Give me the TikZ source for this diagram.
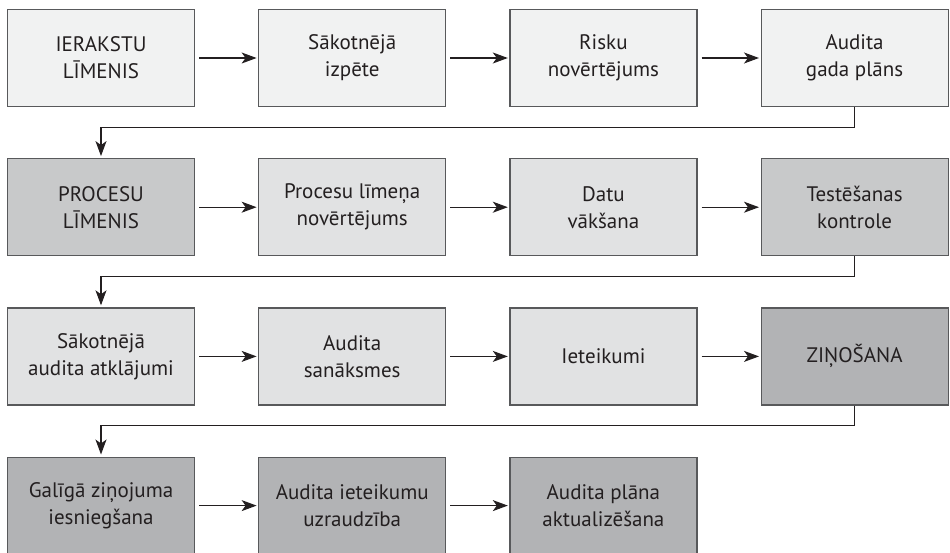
\documentclass[tikz,border=0pt]{standalone}
\usepackage{fontspec}
\setmainfont{PT Sans}
\usepackage{xcolor}
\usetikzlibrary{positioning,arrows.meta}

\definecolor{lightbox}{HTML}{F1F2F2}
\definecolor{midbox}{HTML}{E1E2E3}
\definecolor{greybox}{HTML}{C8C9CA}
\definecolor{darkbox}{HTML}{B2B3B5}
\definecolor{edge}{HTML}{58595B}
\definecolor{ink}{HTML}{231F20}

\begin{document}
\begin{tikzpicture}[
    node distance=51pt and 63pt,
    box/.style={
        draw=edge,
        line width=1.2pt,
        fill=lightbox,
        minimum width=187pt,
        minimum height=97pt,
        align=center,
        text=ink,
        font=\fontsize{21pt}{27pt}\selectfont,
    },
    arrow/.style={-{Stealth[length=15pt,width=11pt,inset=4pt]}, line width=1.1pt, draw=ink,
        shorten <=4pt, shorten >=1.5pt},
    rowarrow/.style={-{Stealth[length=15pt,width=11pt,inset=4pt]}, line width=1.1pt, draw=ink,
        shorten >=2pt},
]
\useasboundingbox (0,0) rectangle (950pt,-552pt);

% ----- Row 1 -----
\node[box] (ier) at (101pt,-58pt) {IERAKSTU\\LĪMENIS};
\node[box, right=of ier] (sak) {Sākotnējā\\izpēte};
\node[box, right=of sak] (risk) {Risku\\novērtējums};
\node[box, right=of risk] (plan) {Audita\\gada plāns};

% ----- Row 2 -----
\node[box, fill=greybox, below=of ier] (proc) {PROCESU\\LĪMENIS};
\node[box, fill=midbox, right=of proc] (plim) {Procesu līmeņa\\novērtējums};
\node[box, fill=midbox, right=of plim] (datu) {Datu\\vākšana};
\node[box, fill=greybox, right=of datu] (test) {Testēšanas\\kontrole};

% ----- Row 3 -----
\node[box, fill=midbox, below=of proc] (atkl) {Sākotnējā\\audita atklājumi};
\node[box, fill=midbox, right=of atkl] (sana) {Audita\\sanāksmes};
\node[box, fill=midbox, right=of sana] (iet) {Ieteikumi};
\node[box, fill=darkbox, right=of iet] (zin) {ZIŅOŠANA};

% ----- Row 4 -----
\node[box, fill=darkbox, below=of atkl] (gal) {Galīgā ziņojuma\\iesniegšana};
\node[box, fill=darkbox, right=of gal] (uzr) {Audita ieteikumu\\uzraudzība};
\node[box, fill=darkbox, right=of uzr] (akt) {Audita plāna\\aktualizēšana};

% ----- Arrows -----
\draw[arrow] (ier) -- (sak);
\draw[arrow] (sak) -- (risk);
\draw[arrow] (risk) -- (plan);
\draw[arrow] (proc) -- (plim);
\draw[arrow] (plim) -- (datu);
\draw[arrow] (datu) -- (test);
\draw[arrow] (atkl) -- (sana);
\draw[arrow] (sana) -- (iet);
\draw[arrow] (iet) -- (zin);
\draw[arrow] (gal) -- (uzr);
\draw[arrow] (uzr) -- (akt);

% ----- Row changes -----
\draw[rowarrow] (plan.south) -- ++(0,-20pt) -| (proc.north);
\draw[rowarrow] (test.south) -- ++(0,-20pt) -| (atkl.north);
\draw[rowarrow] (zin.south) -- ++(0,-20pt) -| (gal.north);

\end{tikzpicture}
\end{document}
